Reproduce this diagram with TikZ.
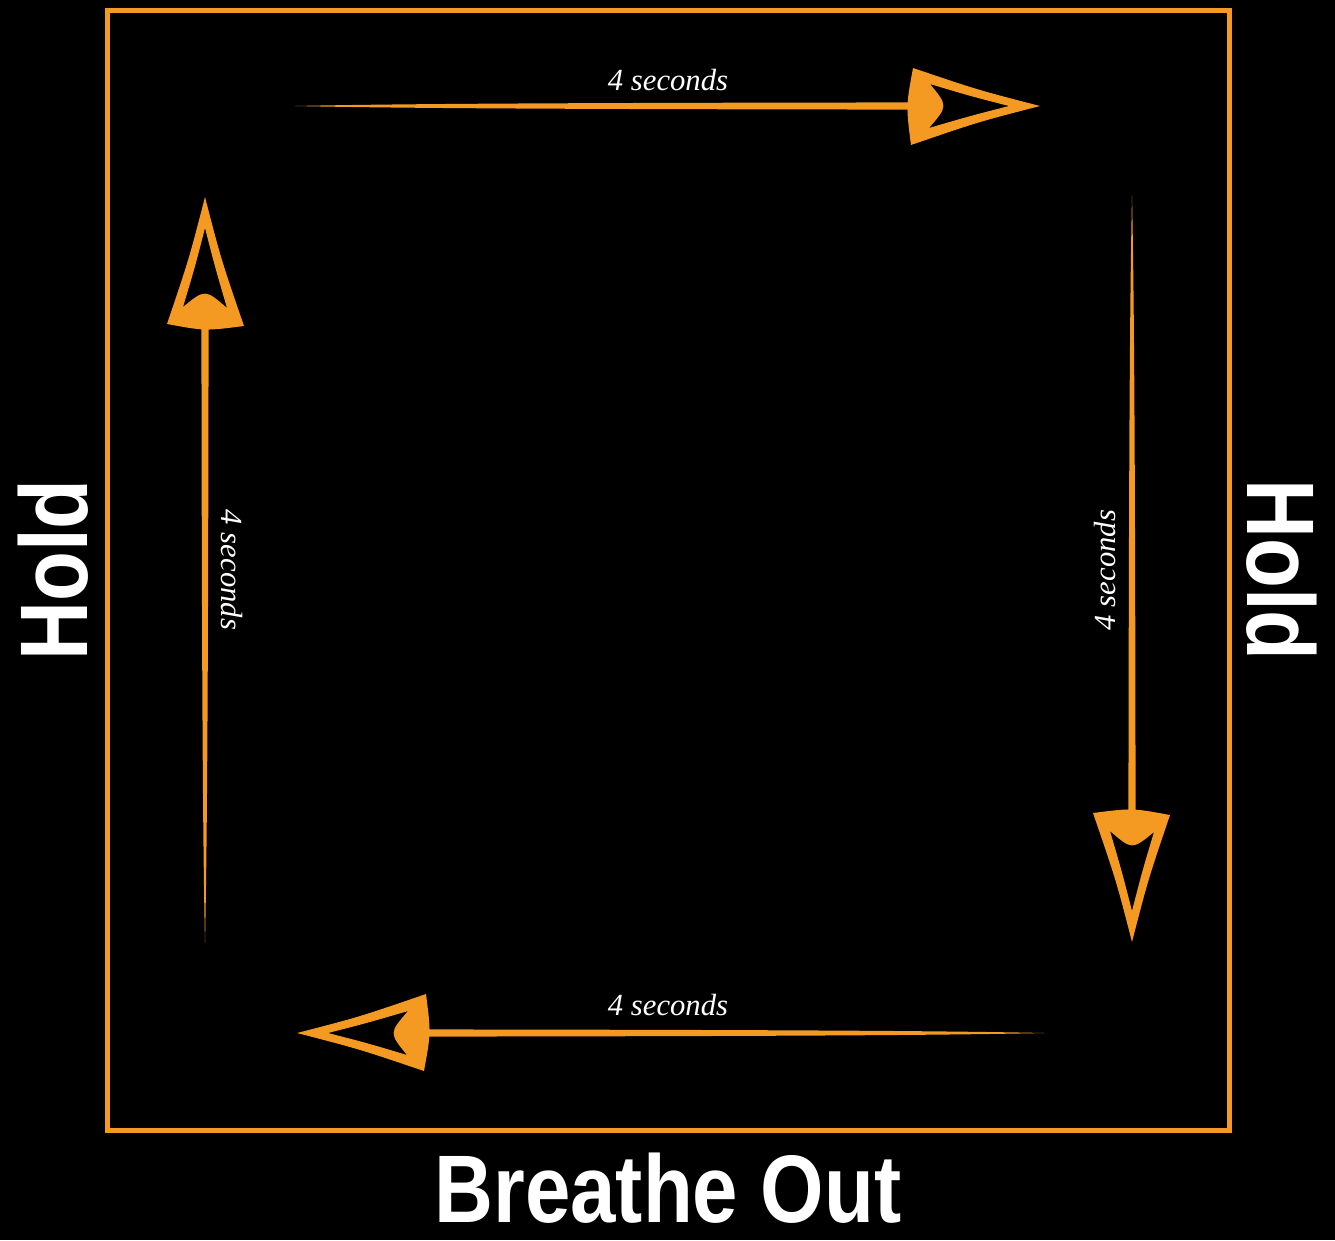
\documentclass[tikz,border=0pt]{standalone}
\usepackage{fontspec}
\setmainfont{Liberation Serif}
\newfontfamily\holdfont[FakeStretch=0.85]{Liberation Sans}
\definecolor{boxorange}{HTML}{F49A23}
\tikzset{
  frame/.style={draw=boxorange, line width=3.75pt},
  bigword/.style={text=white, font=\holdfont\bfseries\fontsize{72}{72}\selectfont, inner sep=0pt},
  secs/.style={text=white, font=\itshape\fontsize{23}{23}\selectfont, inner sep=0pt},
}
\newcommand\sketcharrow[3]{%
  \begin{scope}[shift={(#1)}, rotate=#2]
    \fill[boxorange] (-#3,0) .. controls (-#3+120,-2.6) and (-420,-3.2) .. (-118,-3.6) -- (-118,3.6) .. controls (-420,3.2) and (-#3+120,2.6) .. (-#3,0) -- cycle;
    \fill[boxorange, even odd rule]
      (0,0) .. controls (-62,-16) .. (-127,-38) .. controls (-134,0) .. (-129,39) .. controls (-62,16) .. (0,0) -- cycle
      (-31,0) .. controls (-70,-10) .. (-110,-22) .. controls (-92,0) .. (-111,22) .. controls (-70,10) .. (-31,0) -- cycle;
  \end{scope}}
\begin{document}
\begin{tikzpicture}[x=0.75pt, y=-0.75pt]
  \fill[black] (0,0) rectangle (1335,1240);
  \useasboundingbox (0,0) rectangle (1335,1240);
  \draw[frame] (107,10) rectangle (1229,1130);

  \coordinate (tipTop) at (1040,106);
  \coordinate (tipRight) at (1132,942);
  \coordinate (tipBottom) at (297,1033);
  \coordinate (tipLeft) at (205,197);

  \sketcharrow{tipTop}{0}{745}
  \sketcharrow{tipRight}{-90}{747}
  \sketcharrow{tipBottom}{180}{748}
  \sketcharrow{tipLeft}{90}{746}

  \node[secs] (sTop) at (668,80) {4 seconds};
  \node[secs] (sBottom) at (668,1005) {4 seconds};
  \node[secs, rotate=-90] (sLeft) at (232,570) {4 seconds};
  \node[secs, rotate=90] (sRight) at (1105,570) {4 seconds};

  \node[bigword, rotate=90] (holdLeft) at (53,570) {Hold};
  \node[bigword, rotate=-90] (holdRight) at (1282,570) {Hold};
  \node[bigword, anchor=base] (breathe) at (668,1222) {Breathe Out};
\end{tikzpicture}
\end{document}
